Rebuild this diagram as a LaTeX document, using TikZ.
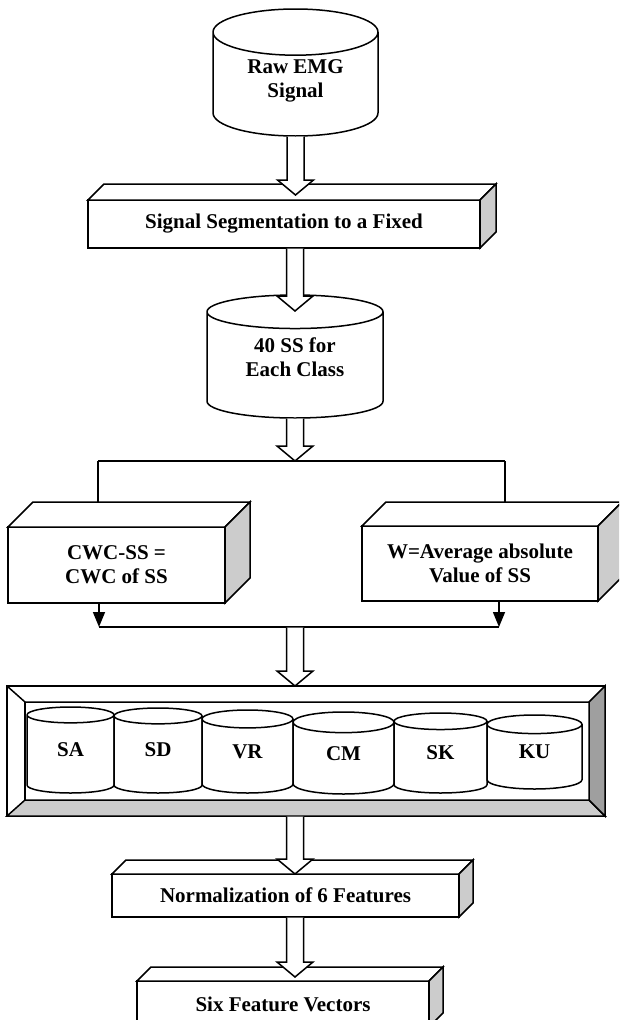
\documentclass[tikz,border=0pt]{standalone}
\usepackage{fontspec}
\setmainfont{Liberation Serif}
\usetikzlibrary{calc,positioning,shapes.geometric,arrows.meta}

% top and side faces of a solid box drawn behind a front node
\newcommand{\solidfaces}[2]{%
  \draw[fill=white] (#1.north west) -- ++(#2,#2) -- ($(#1.north east)+(#2,#2)$) -- (#1.north east) -- cycle;
  \draw[fill=gray!40] (#1.north east) -- ++(#2,#2) -- ($(#1.south east)+(#2,#2)$) -- (#1.south east) -- cycle;}

% hollow block arrow from #1 down to #2, tip lifted by #3
\newcommand{\blockarrow}[3]{%
  \draw[fill=white] ($(#1)+(-8.5,-0.7)$) -- ($(#2)+(-8.5,#3+15)$) -- ($(#2)+(-18,#3+15)$)
    -- ($(#2)+(0,#3)$) -- ($(#2)+(18,#3+15)$) -- ($(#2)+(8.5,#3+15)$) -- ($(#1)+(8.5,-0.7)$);}

% centred lines, lifted a little inside a drum
\newcommand{\drumtext}[2]{\raisebox{#1}[\height][\depth]{\begin{tabular}{@{}c@{}}#2\end{tabular}}}

\tikzset{
  flow/.style={draw, fill=white, outer sep=0pt, inner sep=0pt, align=center,
    font=\bfseries\fontsize{21}{24}\selectfont},
  slab/.style={flow},
  drum/.style={flow, cylinder, shape border rotate=90, anchor=shape center},
  tip/.style={-{Triangle[length=15pt,width=12pt]}},
}

\begin{document}
\begin{tikzpicture}[x=1pt,y=1pt,line width=1.5pt]
\useasboundingbox (0,0) rectangle (619,-1020);
\clip (0,0) rectangle (619,-1020);

% input and segmentation
\node[drum, minimum width=165pt, minimum height=127pt, aspect=0.48] (raw) at (295.5,-72.5) {\drumtext{4pt}{Raw EMG\\Signal}};
\node[slab, minimum width=392pt, minimum height=48pt] (seg) at (284,-224) {Signal Segmentation to a Fixed};
\solidfaces{seg}{16}
\node[drum, minimum width=176pt, minimum height=123pt, aspect=0.34] (ss40) at (295,-356.5) {\drumtext{6pt}{40 SS for\\Each Class}};

% the two branches
\node[slab, minimum width=217pt, minimum height=76pt] (cwc) at (116.5,-565) {CWC-SS =\\CWC of SS};
\solidfaces{cwc}{25}
\node[slab, minimum width=236pt, minimum height=75pt] (wavg) at (480,-563.5) {W=Average absolute\\Value of SS};
\solidfaces{wavg}{24}

\coordinate (fork) at (295,-461);
\coordinate (forkL) at (98,-461);
\coordinate (forkR) at (505,-461);
\draw (forkL) -- (forkR);
\draw (forkL) -- ($(forkL |- cwc.north)+(0,25)$);
\draw (forkR) -- ($(forkR |- wavg.north)+(0,24)$);

\coordinate (join) at (295,-627);
\coordinate (joinL) at (99,-627);
\coordinate (joinR) at (499,-627);
\draw (joinL) -- (joinR);
\draw[tip] (cwc.south -| joinL) -- (joinL);
\draw[tip] (wavg.south -| joinR) -- (joinR);

% bevelled tray of features
\node[flow, minimum width=598pt, minimum height=130pt] (feat) at (306,-751) {};
\coordinate (fNW) at ($(feat.north west)+(18,-16)$);
\coordinate (fNE) at ($(feat.north east)+(-16,-16)$);
\coordinate (fSW) at ($(feat.south west)+(18,16)$);
\coordinate (fSE) at ($(feat.south east)+(-16,16)$);
\draw[fill=gray!40] (feat.south west) -- (feat.south east) -- (fSE) -- (fSW) -- cycle;
\draw[fill=gray!75] (feat.south east) -- (feat.north east) -- (fNE) -- (fSE) -- cycle;
\draw (feat.north west) -- (fNW) -- (fNE);
\draw (fNW) -- (fSW);

\foreach \name/\txt/\x/\y/\w/\h in {sa/SA/70.5/-750/87/86, sd/SD/158/-750.5/88/85,
    vr/VR/247.5/-751.5/91/83, cm/CM/343.5/-753/101/82, sk/SK/440.5/-753/93/80, ku/KU/534.5/-752/95/74}
  \node[drum, minimum width=\w pt, minimum height=\h pt, aspect=0.59] (\name) at (\x,\y) {\drumtext{3pt}{\txt}};

% normalisation and output
\node[slab, minimum width=347pt, minimum height=43pt] (norm) at (285.5,-895.5) {Normalization of 6 Features};
\solidfaces{norm}{14}
\node[slab, minimum width=292pt, minimum height=46pt] (six) at (283,-1004) {Six Feature Vectors};
\solidfaces{six}{14}

% block arrows
\blockarrow{raw.south}{raw.south |- seg.north}{5}
\blockarrow{seg.south -| ss40.north}{ss40.north}{-16}
\blockarrow{ss40.south}{fork}{0}
\blockarrow{join}{join |- feat.north}{0}
\blockarrow{join |- feat.south}{join |- norm.north}{0}
\blockarrow{join |- norm.south}{join |- six.north}{4}
\end{tikzpicture}
\end{document}
